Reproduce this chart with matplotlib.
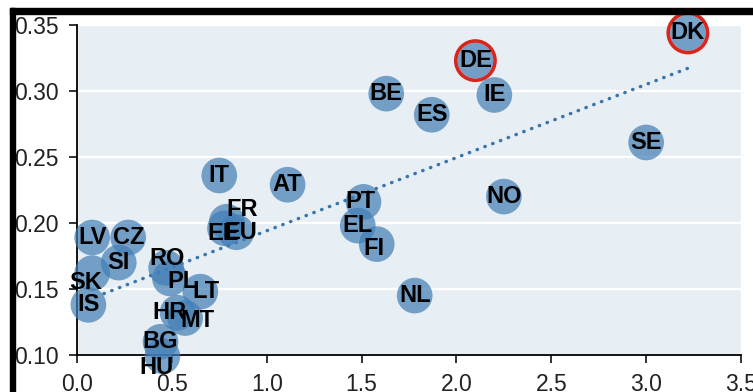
import numpy as np
import matplotlib.pyplot as plt
from matplotlib.patches import Rectangle

# country codes and values
countries = ["DK", "DE", "BE", "IE", "ES", "SE", "NO", "IT", "AT", "PT", "EL", "FI", "NL",
             "FR", "EE", "EU", "LV", "CZ", "SI", "SK", "IS", "RO", "PL", "LT", "HR", "MT",
             "BG", "HU"]
x_vals = [3.22, 2.10, 1.63, 2.20, 1.87, 3.00, 2.25, 0.75, 1.11, 1.51, 1.48, 1.58, 1.78,
          0.79, 0.78, 0.84, 0.08, 0.27, 0.22, 0.08, 0.06, 0.47, 0.49, 0.65, 0.53, 0.57,
          0.44, 0.45]
y_vals = [0.344, 0.323, 0.298, 0.297, 0.282, 0.261, 0.220, 0.236, 0.229, 0.216, 0.198,
          0.184, 0.145, 0.201, 0.196, 0.193, 0.189, 0.189, 0.170, 0.162, 0.138, 0.166,
          0.158, 0.148, 0.132, 0.128, 0.110, 0.099]
highlight = ["DE", "DK"]
x_ticks = [0.0, 0.5, 1.0, 1.5, 2.0, 2.5, 3.0, 3.5]
y_ticks = [0.10, 0.15, 0.20, 0.25, 0.30, 0.35]

# label nudges in points (label placement only)
nudge = {"SK": (-5, -7), "RO": (1, 7), "PL": (9, -2), "LT": (4, 0), "HR": (-6, 0),
         "MT": (9, -1.5), "HU": (-4, -8), "FR": (11, 8.5), "EU": (3, 0), "EE": (-1, -4),
         "FI": (-2, -3), "PT": (-2, 0)}

plt.rcParams["font.family"] = ["Liberation Sans", "DejaVu Sans"]

fig = plt.figure(figsize=(7.53, 3.92), dpi=100)
ax = fig.add_axes([77 / 753, 1 - 355 / 392, 664 / 753, 330 / 392])
ax.set_facecolor("#e8eff4")

x = np.array(x_vals)
y = np.array(y_vals)

# linear trend
k, b = np.polyfit(x, y, 1)
tx = np.array([x.min(), x.max()])
ax.plot(tx, k * tx + b, color="#3a76ad", lw=2.5, linestyle=(0, (0.1, 2.3)),
        dash_capstyle="round", zorder=2)

ax.scatter(x, y, s=660, color="#417eb5", alpha=0.7, edgecolors="none", zorder=3,
           clip_on=False)
for c in highlight:
    i = countries.index(c)
    ax.scatter(x[i], y[i], s=800, facecolors="none", edgecolors="#d8261c",
               linewidths=2.6, zorder=4, clip_on=False)

for c, xi, yi in zip(countries, x, y):
    ax.annotate(c, (xi, yi), xytext=nudge.get(c, (0, 0)), textcoords="offset points",
                ha="center", va="center", fontsize=17, fontweight="bold",
                color="black", zorder=5, annotation_clip=False)

ax.set_xlim(0, 3.5)
ax.set_ylim(0.10, 0.35)
ax.set_xticks(x_ticks)
ax.set_yticks(y_ticks)
ax.set_xticklabels([f"{t:.1f}" for t in x_ticks])
ax.set_yticklabels([f"{t:.2f}" for t in y_ticks])
ax.tick_params(direction="out", length=6, width=1.3, labelsize=16.5, pad=7,
               colors="#222222")
ax.grid(axis="y", color="white", lw=1.6)
ax.set_axisbelow(True)
for s in ["top", "right"]:
    ax.spines[s].set_visible(False)
for s in ["left", "bottom"]:
    ax.spines[s].set_linewidth(1.3)

# black frame from the screenshot
fig.add_artist(Rectangle((10 / 753, 0), 5 / 753, 1 - 8 / 392, transform=fig.transFigure,
                         color="black", zorder=10))
fig.add_artist(Rectangle((10 / 753, 1 - 14 / 392), 1, 6 / 392, transform=fig.transFigure,
                         color="black", zorder=10))

fig.savefig("out.png", dpi=100)
